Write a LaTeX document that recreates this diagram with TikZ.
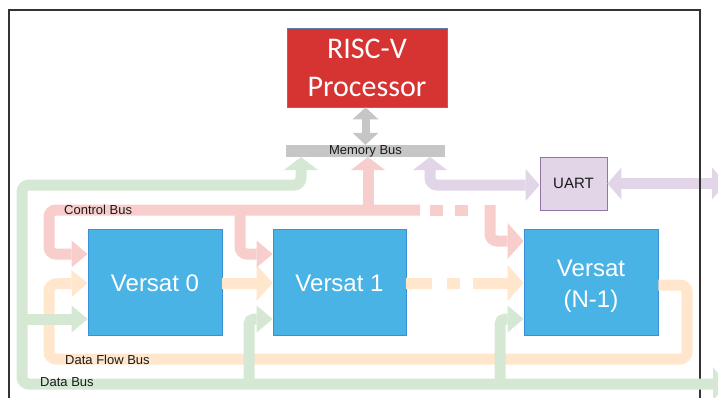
\documentclass[tikz,border=0pt]{standalone}
\usepackage{fontspec}
\setmainfont{Liberation Sans}
\newfontfamily\procfont{Carlito}
\usetikzlibrary{arrows.meta}

\definecolor{procred}{HTML}{D63333}
\definecolor{procedge}{HTML}{5B7FA8}
\definecolor{versatblue}{HTML}{4AB3E6}
\definecolor{versatedge}{HTML}{3A90D4}
\definecolor{busgreen}{HTML}{D5E8D4}
\definecolor{busred}{HTML}{F8CECC}
\definecolor{busorange}{HTML}{FFE6CC}
\definecolor{buspurple}{HTML}{E1D5E7}
\definecolor{uartedge}{HTML}{9673A6}
\definecolor{busgray}{HTML}{C6C6C6}
\definecolor{framegray}{HTML}{333333}
\definecolor{labeltext}{HTML}{1A1A1A}

\tikzset{
  tipsmall/.tip={Triangle[width=27pt,length=16pt,line width=0pt]},
  tipbig/.tip={Triangle[width=36pt,length=16pt,line width=0pt]},
  tipflat/.tip={Triangle[width=34pt,length=13pt,line width=0pt]},
  tipside/.tip={Triangle[width=32pt,length=14pt,line width=0pt]},
  tipgray/.tip={Triangle[width=26pt,length=12pt,line width=0pt]},
  bus/.style={line width=11pt, rounded corners=7pt},
  slimbus/.style={line width=8pt},
  versat/.style={draw=versatedge, fill=versatblue, line width=0.8pt,
    minimum width=134pt, minimum height=106pt, inner sep=0pt, text=white,
    font=\fontsize{24}{31}\selectfont, align=center},
  versattext/.style={text=white, font=\fontsize{24}{31}\selectfont,
    align=center, inner sep=0pt},
  buslabel/.style={font=\fontsize{13}{15}\selectfont, text=labeltext, inner sep=0pt},
}

\begin{document}
\begin{tikzpicture}[x=1pt,y=-1pt]
\useasboundingbox (0,0) rectangle (718,397);
\clip (0,0) rectangle (718,397);

% outer frame
\draw[framegray, line width=1.2pt] (9,405) -- (9,10) -- (700,10) -- (700,405);

% blocks
\node[draw=procedge, fill=procred, line width=0.8pt, minimum width=160pt,
      minimum height=79pt, inner sep=0pt, text=white, align=center,
      font=\procfont\fontsize{30}{38}\selectfont] (proc) at (367,67.5) {RISC-V\\Processor};
\node[fill=busgray, minimum width=159pt, minimum height=12pt, inner sep=0pt] (mbus) at (365.5,151) {};
\node[versat] (v0) at (155,282) {};
\node[versattext] at ([yshift=-1pt]v0.center) {Versat 0};
\node[versat, minimum width=133pt] (v1) at (339.5,282) {};
\node[versattext] at ([yshift=-1pt]v1.center) {Versat 1};
\node[versat] (v2) at (591,282) {};
\node[versattext] at ([yshift=-4pt]v2.center) {Versat\\(N-1)};
\node[draw=uartedge, fill=buspurple, line width=0.8pt, minimum width=67pt,
      minimum height=53pt, inner sep=0pt, font=\fontsize{15}{18}\selectfont,
      text=labeltext] (uart) at (573.5,183.5) {UART};

% bus levels
\coordinate (ctlA) at (0,254);
\coordinate (ctlB) at (0,241);
\coordinate (flowY) at (0,283);
\coordinate (dataY) at (0,319);
\coordinate (memG) at (301,157);
\coordinate (memR) at (368,157);
\coordinate (memP) at (430,157);
\coordinate (ext) at (726,0);

% data flow bus
\draw[bus, busorange, -{tipsmall}] (v2.east |- 0,285) -- (687,285) -- (687,359)
  -- (49,359) -- (49,284) -- (v0.west |- flowY);
\draw[bus, busorange, -{tipbig}] (v0.east |- flowY) -- (v1.west |- flowY);
\draw[bus, busorange] (v1.east |- flowY) -- (432,283);
\draw[bus, busorange] (447,283) -- (460,283);
\draw[bus, busorange, -{tipbig}] (473,283) -- (v2.west |- flowY);

% control bus
\draw[bus, busred, -{tipsmall}] (420,210) -- (49,210) -- (49,254) -- (v0.west |- ctlA);
\draw[bus, busred, -{tipsmall}] (240,210) -- (240,254) -- (v1.west |- ctlA);
\draw[bus, busred, -{tipflat}] (368,210) -- (memR);
\draw[bus, busred] (430,210) -- (443,210);
\draw[bus, busred] (455,210) -- (468,210);
\draw[bus, busred, -{tipbig}] (490,205) -- (490,241) -- (v2.west |- ctlB);

% data bus
\draw[bus, busgreen, {tipflat}-{tipflat}] (memG) -- (301,185) -- (22,185) -- (22,384)
  -- (ext |- 0,384);
\draw[bus, busgreen, -{tipsmall}] (22,319) -- (v0.west |- dataY);
\draw[bus, busgreen, rounded corners=5pt, -{tipsmall}] (249,384) -- (249,319) -- (v1.west |- dataY);
\draw[bus, busgreen, rounded corners=5pt, -{tipsmall}] (500,384) -- (500,319) -- (v2.west |- dataY);

% uart links
\draw[bus, buspurple, {tipflat}-{tipside}] (memP) -- (430,185) -- (uart.west |- 0,185);
\draw[bus, buspurple, {tipside}-{tipside}] (uart.east) -- (ext |- uart.east);

% frame edge stays visible across the uart link
\draw[framegray, line width=1.2pt] (700,165) -- (700,203);

% processor to memory bus
\draw[slimbus, busgray, {tipgray}-{tipgray}] (mbus.north |- proc.south) -- (mbus.north);

% labels
\node[buslabel] at (mbus.center) {Memory Bus};
\node[buslabel, anchor=west] at (64,209.5) {Control Bus};
\node[buslabel, anchor=west] at (65,359.5) {Data Flow Bus};
\node[buslabel, anchor=west] at (40,382.5) {Data Bus};
\end{tikzpicture}
\end{document}
